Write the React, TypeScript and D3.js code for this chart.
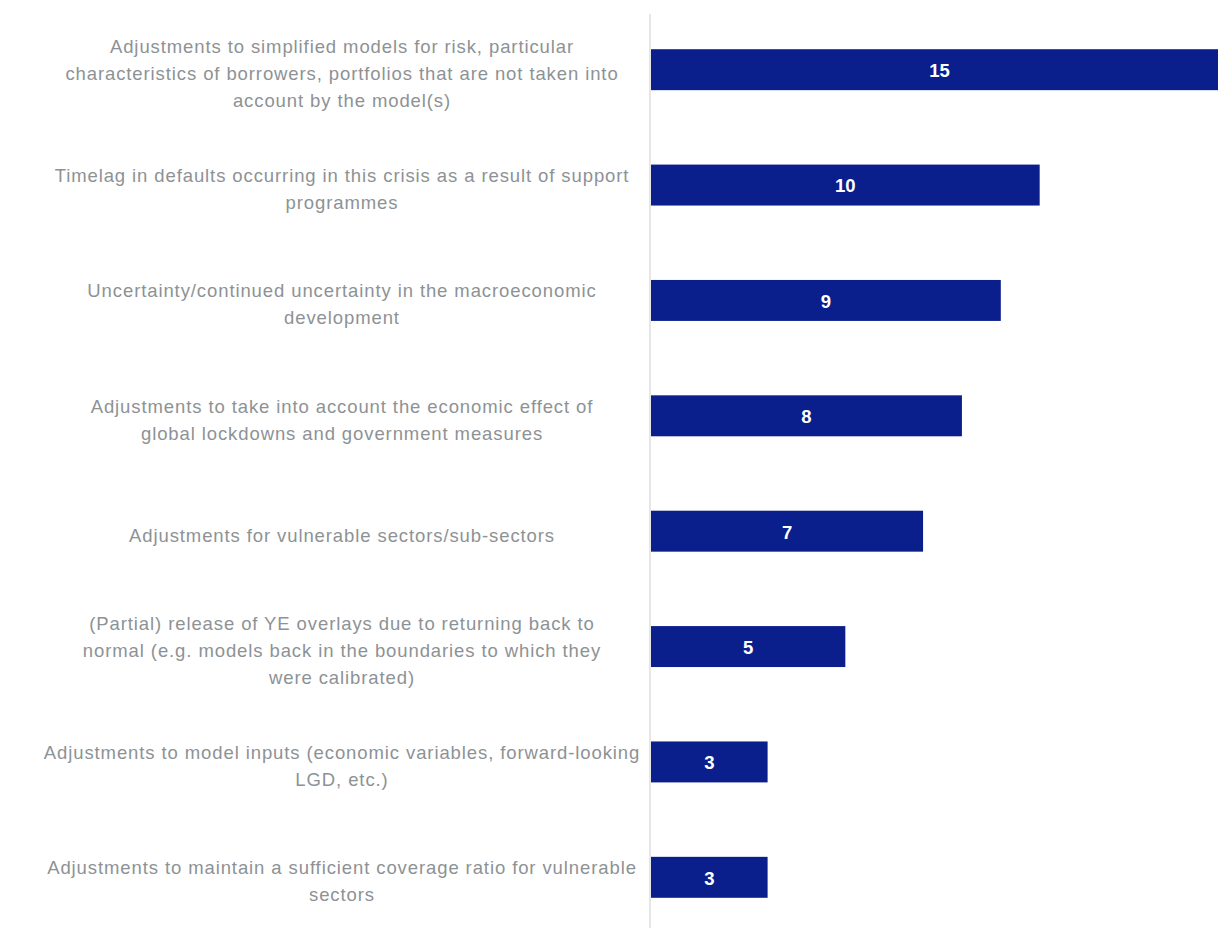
import React from "react";
import * as d3 from "d3";

const categories: string[][] = [
  ["Adjustments to simplified models for risk, particular", "characteristics of borrowers, portfolios that are not taken into", "account by the model(s)"],
  ["Timelag in defaults occurring in this crisis as a result of support", "programmes"],
  ["Uncertainty/continued uncertainty in the macroeconomic", "development"],
  ["Adjustments to take into account the economic effect of", "global lockdowns and government measures"],
  ["Adjustments for vulnerable sectors/sub-sectors"],
  ["(Partial) release of YE overlays due to returning back to", "normal (e.g. models back in the boundaries to which they", "were calibrated)"],
  ["Adjustments to model inputs (economic variables, forward-looking", "LGD, etc.)"],
  ["Adjustments to maintain a sufficient coverage ratio for vulnerable", "sectors"],
];
const values: number[] = [15, 10, 9, 8, 7, 5, 3, 3];

const W = 1218;
const H = 928;

export default function App() {
  const keys = categories.map((_, i) => String(i));
  const y = d3.scaleBand<string>().domain(keys).range([12, 935]).paddingInner(0.645).paddingOuter(0.3225);
  const x = d3.scaleLinear().domain([0, 15]).range([651, 1234]);
  const labelX = 342;
  const lineH = 27;
  return (
    <div style={{ position: "fixed", left: 0, top: 0, width: W, height: H, background: "#fff" }}>
      <svg width={W} height={H} style={{ display: "block" }}>
        <line x1={650} x2={650} y1={14} y2={H} stroke="#e6e6e6" strokeWidth={2} />
        {values.map((v, i) => {
          const y0 = y(String(i))!;
          const bw = y.bandwidth();
          const x1 = x(v);
          const cx = (x(0) + Math.min(x1, W + 10)) / 2;
          return (
            <g key={i}>
              <rect x={x(0)} y={y0} width={x1 - x(0)} height={bw} fill="#0a1f8c" />
              <text
                x={cx}
                y={y0 + bw / 2}
                dy="0.4em"
                textAnchor="middle"
                fill="#ffffff"
                fontFamily="'Liberation Sans', Arial, sans-serif"
                fontWeight={700}
                fontSize={18.5}
              >
                {v}
              </text>
            </g>
          );
        })}
        {categories.map((lines, i) => {
          const cy = y(String(i))! + y.bandwidth() / 2 + 4;
          const n = lines.length;
          return (
            <text
              key={i}
              textAnchor="middle"
              fill="#8d9295"
              fontFamily="'Liberation Sans', Arial, sans-serif"
              fontSize={18.5}
              letterSpacing={0.9}
            >
              {lines.map((l, j) => (
                <tspan key={j} x={labelX} y={cy + (j - (n - 1) / 2) * lineH} dy="0.35em">
                  {l}
                </tspan>
              ))}
            </text>
          );
        })}
      </svg>
    </div>
  );
}
